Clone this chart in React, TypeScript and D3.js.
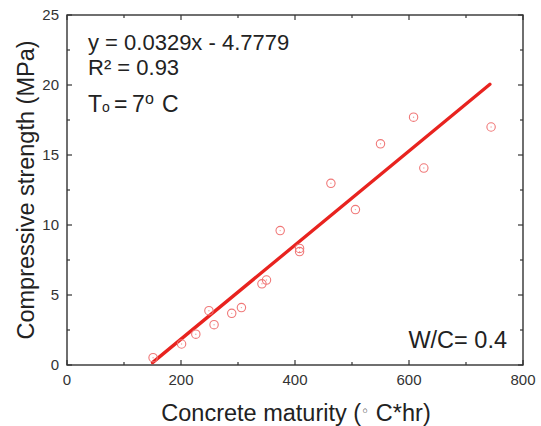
import React from "react";
import * as d3 from "d3";

const maturity = [151, 201, 226, 249, 258, 289, 306, 342, 350, 374, 408, 408, 463, 506, 550, 608, 626, 744];
const strength = [0.52, 1.5, 2.2, 3.88, 2.88, 3.69, 4.1, 5.8, 6.07, 9.6, 8.33, 8.1, 12.98, 11.1, 15.8, 17.7, 14.07, 17.0];
const fitX = [150, 742];
const fitY = [0.17, 20.05];
const xMajor = [0, 200, 400, 600, 800];
const xMinor = [100, 300, 500, 700];
const yMajor = [0, 5, 10, 15, 20, 25];
const yMinor = [2.5, 7.5, 12.5, 17.5, 22.5];

const W = 541, H = 426;
const L = 67, R = 523, T = 15, B = 365;
const FONT = "'Liberation Sans', Arial, Helvetica, sans-serif";

export default function App() {
  const x = d3.scaleLinear().domain([0, 800]).range([L, R]);
  const y = d3.scaleLinear().domain([0, 25]).range([B, T]);
  const line = d3.line<number>().x((_, i) => x(fitX[i])).y((_, i) => y(fitY[i]));
  const maj = 5, min = 3;
  const axisColor = "#333";
  return (
    <svg width={W} height={H} style={{ position: "absolute", left: 0, top: 0, background: "#fff" }} fontFamily={FONT}>
      <g stroke={axisColor} strokeWidth={1.2}>
        {xMajor.map((v) => (
          <g key={"xm" + v}>
            <line x1={x(v)} x2={x(v)} y1={B} y2={B - maj} />
            <line x1={x(v)} x2={x(v)} y1={T} y2={T + maj} />
          </g>
        ))}
        {xMinor.map((v) => (
          <g key={"xn" + v}>
            <line x1={x(v)} x2={x(v)} y1={B} y2={B - min} />
            <line x1={x(v)} x2={x(v)} y1={T} y2={T + min} />
          </g>
        ))}
        {yMajor.map((v) => (
          <g key={"ym" + v}>
            <line x1={L} x2={L + maj} y1={y(v)} y2={y(v)} />
            <line x1={R} x2={R - maj} y1={y(v)} y2={y(v)} />
          </g>
        ))}
        {yMinor.map((v) => (
          <g key={"yn" + v}>
            <line x1={L} x2={L + min} y1={y(v)} y2={y(v)} />
            <line x1={R} x2={R - min} y1={y(v)} y2={y(v)} />
          </g>
        ))}
      </g>
      <rect x={L} y={T} width={R - L} height={B - T} fill="none" stroke={axisColor} strokeWidth={1.4} />
      <g fill="#333" fontSize={15}>
        {xMajor.map((v) => (
          <text key={"xl" + v} x={x(v)} y={385} textAnchor="middle">{v}</text>
        ))}
        {yMajor.map((v) => (
          <text key={"yl" + v} x={59} y={y(v) + 5.3} textAnchor="end">{v}</text>
        ))}
      </g>
      <path d={line(fitX) || ""} fill="none" stroke="#e8231f" strokeWidth={3.3} strokeLinecap="round" />
      <g>
        {maturity.map((m, i) => (
          <g key={"p" + i}>
            <circle cx={x(m)} cy={y(strength[i])} r={4.2} fill="none" stroke="#f07878" strokeWidth={1.1} />
            <circle cx={x(m)} cy={y(strength[i])} r={0.7} fill="#f4a0a0" />
          </g>
        ))}
      </g>
      <g fill="#222">
        <text x={88} y={50} fontSize={22}>y = 0.0329x - 4.7779</text>
        <text x={88} y={75} fontSize={22}>R² = 0.93</text>
        <text y={112} fontSize={23}>
          <tspan x={88}>T</tspan>
          <tspan x={102} fontSize={14}>o</tspan>
          <tspan x={114}>=</tspan>
          <tspan x={132}>7</tspan>
          <tspan x={145} y={103.5} fontSize={16}>o</tspan>
          <tspan x={162} y={112}>C</tspan>
        </text>
        <text x={507} y={348} fontSize={23.5} textAnchor="end">W/C= 0.4</text>
      </g>
      <g fill="#222" fontSize={23.5}>
        <text x={296} y={421} textAnchor="middle">
          Concrete maturity (<tspan fontSize={14} dy={-5} fontFamily="'DejaVu Sans', sans-serif">◦</tspan>
          <tspan dy={5}> C*hr)</tspan>
        </text>
        <text transform={`translate(34, 190) rotate(-90)`} textAnchor="middle">Compressive strength (MPa)</text>
      </g>
    </svg>
  );
}
